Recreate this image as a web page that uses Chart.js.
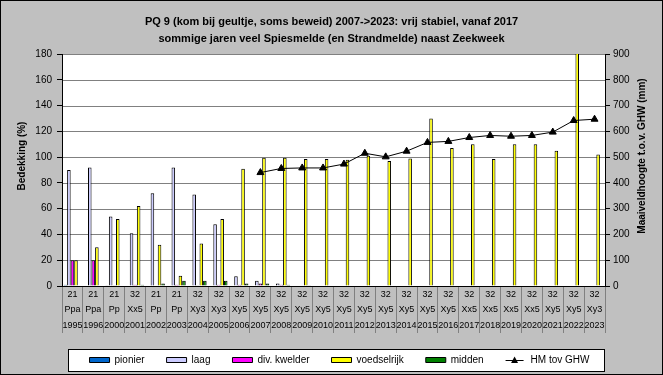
<!DOCTYPE html>
<html lang="nl">
<head>
<meta charset="utf-8" />
<title>PQ 9</title>
<script src="https://cdn.jsdelivr.net/npm/chart.js@4.4.0/dist/chart.umd.min.js"></script>
<style>
  html, body { margin: 0; padding: 0; background: #c0c0c0; }
  #wrap { position: relative; width: 663px; height: 375px; background: #c0c0c0; overflow: hidden; }
  #plotBg, #legendBox, .gridline, #frame { position: absolute; }
  #plotBg { background: #fff; }
  .gridline { height: 1px; background: #808080; }
  #legendBox { background: #fff; border: 1px solid #000; box-sizing: border-box; }
  #chart { position: absolute; left: 0; top: 0; }
  #frame { left: 0; top: 0; width: 663px; height: 375px; border: 1px solid #000; box-sizing: border-box; pointer-events: none; }
</style>
</head>
<body>
<div id="wrap">
    <div id="plotBg"></div>
    <div id="gridLayer"></div>
    <div id="legendBox"></div>
    <canvas id="chart" width="663" height="375"></canvas>
    <div id="frame"></div>
</div>
<script>
    // categorieën: PQ-code, vegetatietype, jaar
    const codes = ['21', '21', '21', '32', '21', '21', '32', '32', '32', '32', '32', '32', '32',
                   '32', '32', '32', '32', '32', '32', '32', '32', '32', '32', '32', '32', '32'];
    const types = ['Ppa', 'Ppa', 'Pp', 'Xx5', 'Pp', 'Pp', 'Xy3', 'Xy3', 'Xy5', 'Xy5', 'Xy5', 'Xy5', 'Xy5',
                   'Xy5', 'Xy5', 'Xy5', 'Xy5', 'Xy5', 'Xy5', 'Xx5', 'Xx5', 'Xx5', 'Xx5', 'Xy5', 'Xy5', 'Xy3'];
    const years = ['1995', '1996', '2000', '2001', '2002', '2003', '2004', '2005', '2006', '2007', '2008',
                   '2009', '2010', '2011', '2012', '2013', '2014', '2015', '2016', '2017', '2018', '2019',
                   '2020', '2021', '2022', '2023'];

    // bedekking (%)
    const pionier     = [1, 0, 0.5, 0, 0, 0, 0, 0, 0, 0, 0, 0, 0, 0, 0, 0, 0, 0, 0, 0, 0, 0, 0, 0, 0, 0];
    const laag        = [90, 92, 54, 41, 72, 92, 71, 48, 7.5, 4, 2, 0, 0, 0, 0, 0, 0, 0, 0, 0, 0, 0, 0, 0, 0, 0];
    const divKwelder  = [20, 20, 0.5, 1, 0, 1, 0.5, 1, 1, 2, 1, 0, 0, 0, 0, 0, 0, 0, 0, 0, 0, 0, 0, 0, 0, 0];
    const voedselrijk = [20, 30, 52, 62, 32, 8, 33, 52, 91, 99.5, 99.5, 98.5, 98.5, 98, 101, 97, 99, 130,
                         107, 110, 98.5, 110, 110, 105, 182, 102];
    const midden      = [0, 0, 0, 1, 2, 4, 4, 4, 2, 2, 1, 0.5, 0, 0, 0, 0, 0, 0, 0, 0, 0, 0, 0, 0, 0, 0];

    // maaiveldhoogte t.o.v. GHW (mm)
    const hmGhw = [null, null, null, null, null, null, null, null, null, 440, 456, 458, 458, 473, 515, 501,
                   523, 557, 561, 576, 584, 581, 584, 597, 642, 647];

    const leftTicks = [0, 20, 40, 60, 80, 100, 120, 140, 160, 180];
    const rightTicks = [0, 100, 200, 300, 400, 500, 600, 700, 800, 900];

    const labels = years.map((y, i) => [codes[i], types[i], y]);
    const FONT = "'Liberation Sans', Arial, sans-serif";
    const LEGEND_SHIFT = 8;

    Chart.defaults.font.family = FONT;
    Chart.defaults.color = '#000';

    function bar(label, data, color) {
        return {
            type: 'bar', label: label, data: data, yAxisID: 'y', order: 1,
            backgroundColor: color, borderColor: '#000', borderWidth: 1,
            barPercentage: 1.0, categoryPercentage: 0.85
        };
    }

    // legenda iets naar rechts, HM-symbool en astitels
    const decor = {
        id: 'decor',
        beforeDraw(chart) {
            const lg = chart.legend;
            if (lg && !lg._shifted) {
                lg.left += LEGEND_SHIFT;
                lg.right += LEGEND_SHIFT;
                lg.legendHitBoxes.forEach(h => { h.left += LEGEND_SHIFT; });
                lg._shifted = true;
            }
        },
        afterDraw(chart) {
            const { ctx, chartArea: a } = chart;
            ctx.save();
            const hb = chart.legend.legendHitBoxes;
            const h = hb && hb[hb.length - 1];
            if (h) {
                const cy = h.top + h.height / 2;
                ctx.strokeStyle = '#000';
                ctx.lineWidth = 1;
                ctx.setLineDash([]);
                ctx.beginPath();
                ctx.moveTo(h.left, Math.round(cy) + 0.5);
                ctx.lineTo(h.left + 18, Math.round(cy) + 0.5);
                ctx.stroke();
                ctx.fillStyle = '#000';
                ctx.beginPath();
                ctx.moveTo(h.left + 9, cy - 3.5);
                ctx.lineTo(h.left + 12.5, cy + 3);
                ctx.lineTo(h.left + 5.5, cy + 3);
                ctx.closePath();
                ctx.fill();
            }
            const ty = (a.top + a.bottom) / 2 - 14;
            ctx.fillStyle = '#000';
            ctx.font = 'bold 10px ' + FONT;
            ctx.textAlign = 'center';
            ctx.textBaseline = 'middle';
            ctx.translate(chart.scales.y.left + 22, ty);
            ctx.rotate(-Math.PI / 2);
            ctx.fillText('Bedekking (%)', 0, 0);
            ctx.setTransform(1, 0, 0, 1, 0, 0);
            ctx.translate(chart.scales.y1.right - 21, ty);
            ctx.rotate(-Math.PI / 2);
            ctx.fillText('Maaiveldhoogte t.o.v. GHW (mm)', 0, 0);
            ctx.setTransform(1, 0, 0, 1, 0, 0);
            ctx.restore();
        }
    };

    const chart = new Chart(document.getElementById('chart'), {
        type: 'bar',
        data: {
            labels: labels,
            datasets: [
                bar('pionier', pionier, '#0066cc'),
                bar('laag', laag, '#ccccff'),
                bar('div. kwelder', divKwelder, '#ff00ff'),
                bar('voedselrijk', voedselrijk, '#ffff00'),
                bar('midden', midden, '#008000'),
                {
                    type: 'line', label: 'HM tov GHW', data: hmGhw, yAxisID: 'y1', order: 0,
                    borderColor: '#000', borderWidth: 1, backgroundColor: '#000',
                    pointStyle: 'triangle', pointRadius: 4, pointBackgroundColor: '#000',
                    pointBorderColor: '#000', spanGaps: false, tension: 0
                }
            ]
        },
        options: {
            responsive: false,
            animation: false,
            layout: { padding: 0 },
            plugins: {
                title: {
                    display: true,
                    text: ['PQ 9 (kom bij geultje, soms beweid) 2007->2023: vrij stabiel, vanaf 2017',
                           'sommige jaren veel Spiesmelde (en Strandmelde) naast Zeekweek'],
                    font: { size: 11, weight: 'bold', lineHeight: 1.5 },
                    color: '#000',
                    padding: { top: 14, bottom: 7 }
                },
                legend: {
                    position: 'bottom',
                    labels: {
                        boxWidth: 20, boxHeight: 5, padding: 22,
                        font: { size: 10 },
                        color: '#000',
                        sort: (a, b) => a.datasetIndex - b.datasetIndex,
                        generateLabels(chart) {
                            const items = Chart.defaults.plugins.legend.labels.generateLabels(chart);
                            items.forEach(it => {
                                if (it.datasetIndex === 5) {
                                    it.fillStyle = 'rgba(0,0,0,0)';
                                    it.strokeStyle = 'rgba(0,0,0,0)';
                                    it.lineWidth = 0;
                                }
                            });
                            return items;
                        }
                    }
                },
                tooltip: { enabled: false }
            },
            scales: {
                x: {
                    offset: true,
                    grid: { drawOnChartArea: false, offset: true, tickLength: 47, color: '#808080' },
                    border: { color: '#000' },
                    ticks: {
                        autoSkip: false, maxRotation: 0, minRotation: 0,
                        padding: -46, font: { size: 9, lineHeight: 1.7 }, color: '#000'
                    },
                    afterFit(s) { s.height = 47; }
                },
                y: {
                    position: 'left',
                    min: 0, max: 180,
                    afterBuildTicks(s) { s.ticks = leftTicks.map(v => ({ value: v })); },
                    grid: { drawOnChartArea: false, tickColor: '#000', tickLength: 5 },
                    border: { color: '#000' },
                    ticks: { font: { size: 10 }, padding: 5, color: '#000' },
                    afterFit(s) { s.width = 62; }
                },
                y1: {
                    position: 'right',
                    min: 0, max: 900,
                    afterBuildTicks(s) { s.ticks = rightTicks.map(v => ({ value: v })); },
                    grid: { drawOnChartArea: false, tickColor: '#000', tickLength: 5 },
                    border: { color: '#000' },
                    ticks: { font: { size: 10 }, padding: 3, color: '#000' },
                    afterFit(s) { s.width = 58; }
                }
            }
        },
        plugins: [decor]
    });

    // witte plotvlak-achtergrond en rasterlijnen achter het (transparante) canvas,
    // op de posities die de y-schaal van Chart.js geeft
    const area = chart.chartArea;
    const bg = document.getElementById('plotBg');
    bg.style.left = area.left + 'px';
    bg.style.top = area.top + 'px';
    bg.style.width = (area.right - area.left) + 'px';
    bg.style.height = (area.bottom - area.top) + 'px';

    const gridLayer = document.getElementById('gridLayer');
    const ys = chart.scales.y;
    leftTicks.forEach(v => {
        if (v === 0) return;
        const line = document.createElement('div');
        line.className = 'gridline';
        line.style.left = area.left + 'px';
        line.style.width = (area.right - area.left) + 'px';
        line.style.top = Math.round(ys.getPixelForValue(v)) + 'px';
        gridLayer.appendChild(line);
    });

    // legendakader rond de legenda-items
    const hb = chart.legend.legendHitBoxes;
    if (hb && hb.length) {
        const l = Math.round(Math.min(...hb.map(h => h.left)) - 22);
        const r = Math.round(Math.max(...hb.map(h => h.left + h.width)) + 16);
        const cy = hb[0].top + hb[0].height / 2;
        const box = document.getElementById('legendBox');
        box.style.left = l + 'px';
        box.style.top = Math.round(cy - 11) + 'px';
        box.style.width = (r - l) + 'px';
        box.style.height = '23px';
    }
</script>
</body>
</html>
